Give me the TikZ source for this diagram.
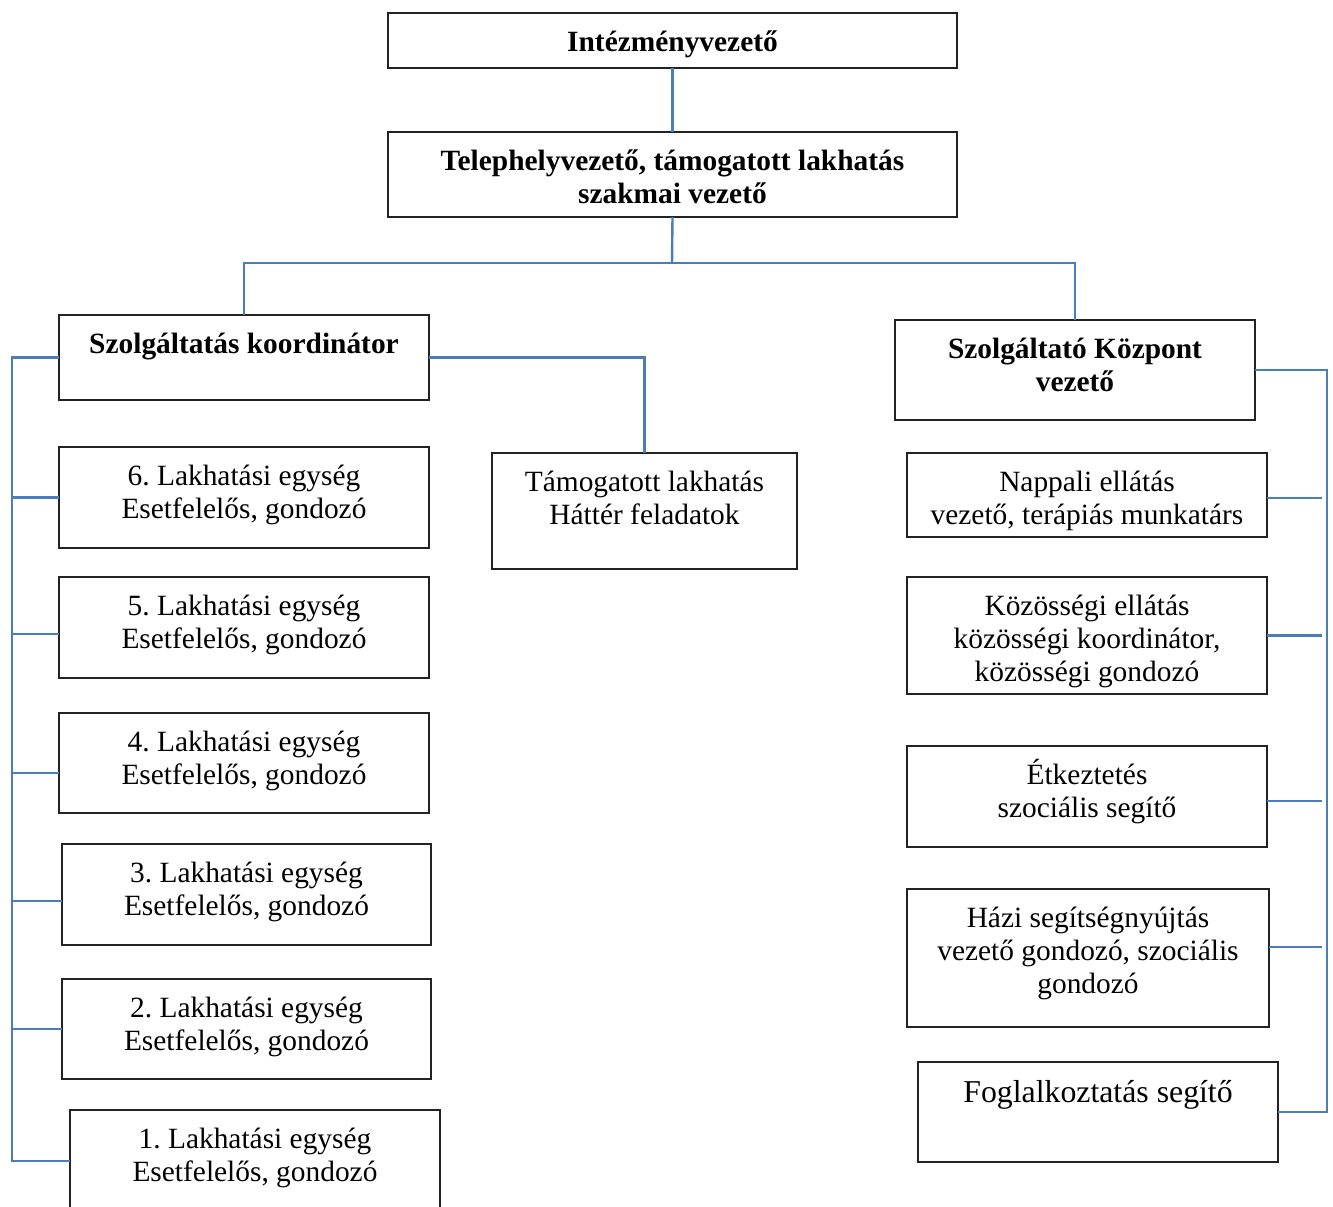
\documentclass[tikz,border=0pt]{standalone}
\usepackage{fontspec}
\setmainfont{Liberation Serif}
\usetikzlibrary{calc}
\frenchspacing
\definecolor{connblue}{RGB}{74,126,187}
\definecolor{boxline}{RGB}{35,35,35}
\newcommand{\fs}{\rule{0pt}{14pt}}
\newcommand{\fsb}{\rule{0pt}{15pt}}
\newcommand{\mkbox}[5]{\node[boxst, minimum width={(#4-#2)*0.5pt}, minimum height={(#5-#3)*0.5pt}] (#1) at ({(#2+#4)/2},{(#3+#5)/2}) {};}
\begin{document}
\begin{tikzpicture}[x=0.5pt,y=-0.5pt,
  boxst/.style={draw=boxline, line width=0.8pt, inner sep=0pt, outer sep=0pt, rectangle},
  txt/.style={inner sep=0pt, align=center, font=\fontsize{14.7pt}{16.5pt}\selectfont\frenchspacing, anchor=north},
  bigtxt/.style={txt, font=\fontsize{15.9pt}{17.8pt}\selectfont},
  boldtxt/.style={txt, font=\fontsize{14.7pt}{16.5pt}\selectfont\bfseries},
  conn/.style={draw=connblue, line width=1.2pt}]
\useasboundingbox (0,0) rectangle (1333,1206);

% boxes
\mkbox{iv}{388}{13}{957}{68}
\mkbox{tv}{388}{132}{957}{217}
\mkbox{koord}{59}{315}{429}{400}
\mkbox{szk}{895}{320}{1255}{420}
\mkbox{tam}{492}{453}{797}{569}
\mkbox{l6}{59}{447}{429}{548}
\mkbox{l5}{59}{577}{429}{678}
\mkbox{l4}{59}{713}{429}{813}
\mkbox{l3}{62}{844}{431}{945}
\mkbox{l2}{62}{979}{431}{1079}
\mkbox{l1}{70}{1110}{440}{1212}
\mkbox{nap}{907}{453}{1267}{537}
\mkbox{koz}{907}{577}{1267}{694}
\mkbox{etk}{907}{746}{1267}{847}
\mkbox{hazi}{907}{889}{1269}{1027}
\mkbox{fog}{918}{1062}{1278}{1162}

% texts
\node[boldtxt] (ivt) at ($(iv.north)+(0,10)$) {\fs Intézményvezető};
\node[boldtxt] (tvt) at ($(tv.north)+(0,10)$) {\fs Telephelyvezető, támogatott lakhatás\\szakmai vezető};
\node[boldtxt] (koordt) at ($(koord.north)+(0,10)$) {\fs Szolgáltatás koordinátor};
\node[boldtxt] (szkt) at ($(szk.north)+(0,10)$) {\fs Szolgáltató Központ\\vezető};
\node[txt] (tamt) at ($(tam.north)+(0,10)$) {\fs Támogatott lakhatás\\Háttér feladatok};
\node[txt] (l6t) at ($(l6.north)+(0,10)$) {\fs 6.\ Lakhatási egység\\Esetfelelős, gondozó};
\node[txt] (l5t) at ($(l5.north)+(0,10)$) {\fs 5.\ Lakhatási egység\\Esetfelelős, gondozó};
\node[txt] (l4t) at ($(l4.north)+(0,10)$) {\fs 4.\ Lakhatási egység\\Esetfelelős, gondozó};
\node[txt] (l3t) at ($(l3.north)+(0,10)$) {\fs 3.\ Lakhatási egység\\Esetfelelős, gondozó};
\node[txt] (l2t) at ($(l2.north)+(0,10)$) {\fs 2.\ Lakhatási egység\\Esetfelelős, gondozó};
\node[txt] (l1t) at ($(l1.north)+(0,10)$) {\fs 1.\ Lakhatási egység\\Esetfelelős, gondozó};
\node[txt] (napt) at ($(nap.north)+(0,10)$) {\fs Nappali ellátás\\vezető, terápiás munkatárs};
\node[txt] (kozt) at ($(koz.north)+(0,10)$) {\fs Közösségi ellátás\\közösségi koordinátor,\\közösségi gondozó};
\node[txt] (etkt) at ($(etk.north)+(0,10)$) {\fs Étkeztetés\\szociális segítő};
\node[txt] (hazit) at ($(hazi.north)+(0,10)$) {\fs Házi segítségnyújtás\\vezető gondozó, szociális\\gondozó};
\node[bigtxt] (fogt) at ($(fog.north)+(0,10)$) {\fsb Foglalkoztatás segítő};

% connectors
\coordinate (bus) at (672,263);
\draw[conn] (iv.south) -- (tv.north);
\draw[conn] (tv.south) -- (bus);
\draw[conn] (koord.north) |- (bus) -| (szk.north);
\draw[conn] (koord.east) -| (tam.north);

\coordinate (lb) at (12,1161);
\draw[conn] (koord.west) -| (lb) -- (l1.west);
\path ([yshift=-3.25pt]l5.west) coordinate (l5p);
\path ([yshift=-5pt]l4.west) coordinate (l4p);
\path ([yshift=-3.25pt]l3.west) coordinate (l3p);
\draw[conn] (l6.west) -- (l6.west -| lb);
\draw[conn] (l5p) -- (l5p -| lb);
\draw[conn] (l4p) -- (l4p -| lb);
\draw[conn] (l3p) -- (l3p -| lb);
\draw[conn] (l2.west) -- (l2.west -| lb);

\coordinate (rb) at (1327,1112);
\coordinate (rt) at (1322,0);
\draw[conn] (szk.east) -| (rb) -- (fog.east);
\path ([yshift=-1.5pt]nap.east) coordinate (napp);
\path ([yshift=-2.25pt]etk.east) coordinate (etkp);
\path ([yshift=5.5pt]hazi.east) coordinate (hazip);
\draw[conn] (napp) -- (napp -| rt);
\draw[conn] (koz.east) -- (koz.east -| rt);
\draw[conn] (etkp) -- (etkp -| rt);
\draw[conn] (hazip) -- (hazip -| rt);
\end{tikzpicture}
\end{document}
